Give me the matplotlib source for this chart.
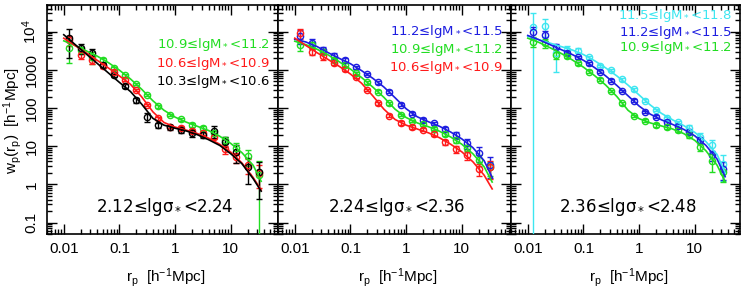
import numpy as np
import matplotlib
matplotlib.use('Agg')
import matplotlib.pyplot as plt
from matplotlib.ticker import FixedLocator, FixedFormatter, LogLocator, NullFormatter

plt.rcParams['font.family'] = ['Liberation Sans', 'DejaVu Sans']
plt.rcParams['mathtext.fontset'] = 'custom'
plt.rcParams['mathtext.rm'] = 'Liberation Sans'
plt.rcParams['mathtext.it'] = 'Liberation Sans:italic'
plt.rcParams['mathtext.bf'] = 'Liberation Sans:bold'
plt.rcParams['mathtext.default'] = 'regular'

# ---------------- data ----------------
r_pts = [0.0126, 0.02, 0.0316, 0.0501, 0.0794, 0.126, 0.2, 0.316, 0.501, 0.794,
         1.26, 2.0, 3.16, 5.01, 7.94, 12.6, 20.0, 31.6]
r_line = [0.01, 0.0158, 0.0251, 0.0398, 0.0631, 0.1, 0.158, 0.251, 0.398, 0.631,
          1.0, 1.58, 2.51, 3.98, 6.31, 10.0, 15.8, 25.1, 35.0]

# panel 1 : 2.12 <= lg sigma < 2.24   (w_p values; fit curves given as log10 w_p)
p1_green_w = [3700, 3300, 2140, 1820, 1100, 724, 427, 219, 110, 66, 50, 36, 30, 22, 14.5, 9.1, 5.4, 1.8]
p1_green_e = [0.6, 0.2, 0.35, 0.12, 0.1, 0.1, 0.08, 0.08, 0.08, 0.08, 0.08, 0.1, 0.1, 0.15, 0.2, 0.3, 0.45, 1.3]
p1_red_w = [6000, 2450, 1820, 1260, 890, 550, 295, 120, 54, 32, 30, 25, 22, 17.8, 8.3, 5.2, 3.2, 2.0]
p1_red_e = [0.3, 0.2, 0.2, 0.12, 0.1, 0.08, 0.08, 0.08, 0.08, 0.08, 0.1, 0.1, 0.12, 0.15, 0.25, 0.3, 0.4, 0.6]
p1_black_w = [6800, 3700, 2700, 1350, 720, 380, 162, 59, 36, 32, 26, 22, 20, 25, 13.2, 7.1, 2.9, 2.1]
p1_black_e = [0.7, 0.3, 0.3, 0.15, 0.1, 0.1, 0.15, 0.25, 0.15, 0.15, 0.15, 0.2, 0.2, 0.35, 0.3, 0.5, 0.65, 0.8]
p1_green_fit = [3.76, 3.64, 3.50, 3.36, 3.19, 2.99, 2.76, 2.49, 2.19, 1.94, 1.76, 1.63, 1.52, 1.41, 1.26, 1.07, 0.83, 0.50, 0.08]
p1_red_fit = [3.83, 3.64, 3.45, 3.25, 3.05, 2.84, 2.62, 2.29, 1.90, 1.62, 1.50, 1.42, 1.33, 1.21, 1.05, 0.84, 0.56, 0.18, -0.15]
p1_black_fit = [3.92, 3.67, 3.42, 3.17, 2.92, 2.67, 2.43, 2.10, 1.73, 1.55, 1.47, 1.40, 1.30, 1.17, 1.02, 0.80, 0.54, 0.15, -0.18]

# panel 2 : 2.24 <= lg sigma < 2.36
p2_blue_w = [7900, 5000, 3300, 2240, 1820, 1175, 776, 468, 269, 123, 71, 49, 40, 27.5, 19.5, 12.0, 6.6, 3.3]
p2_blue_e = [0.4, 0.25, 0.2, 0.2, 0.1, 0.08, 0.08, 0.08, 0.08, 0.08, 0.08, 0.1, 0.1, 0.15, 0.2, 0.3, 0.4, 0.55]
p2_green_w = [4470, 4470, 3020, 1820, 1350, 813, 468, 269, 132, 66, 46, 37, 29, 20.4, 14.5, 8.7, 4.4, 2.8]
p2_green_e = [0.3, 0.2, 0.15, 0.12, 0.1, 0.08, 0.08, 0.08, 0.08, 0.08, 0.08, 0.08, 0.1, 0.12, 0.15, 0.2, 0.3, 0.4]
p2_red_w = [9100, 3020, 2240, 1550, 1050, 660, 295, 132, 63, 41, 32, 27, 21.4, 12.6, 8.3, 5.9, 2.5, 2.8]
p2_red_e = [0.3, 0.2, 0.2, 0.15, 0.1, 0.08, 0.08, 0.08, 0.1, 0.1, 0.1, 0.1, 0.12, 0.15, 0.2, 0.25, 0.35, 0.5]
p2_blue_fit = [3.80, 3.73, 3.61, 3.45, 3.30, 3.16, 2.98, 2.78, 2.55, 2.27, 1.98, 1.77, 1.64, 1.52, 1.37, 1.19, 0.96, 0.62, 0.18]
p2_green_fit = [3.75, 3.66, 3.54, 3.39, 3.21, 3.02, 2.80, 2.55, 2.28, 1.97, 1.75, 1.61, 1.51, 1.39, 1.24, 1.05, 0.80, 0.46, 0.06]
p2_red_fit = [3.83, 3.64, 3.45, 3.27, 3.09, 2.89, 2.65, 2.32, 1.97, 1.70, 1.55, 1.45, 1.35, 1.22, 1.05, 0.85, 0.59, 0.24, -0.12]

# panel 3 : 2.36 <= lg sigma < 2.48
p3_cyan_w = [13200, 14100, 2700, 3300, 3160, 2140, 1260, 1000, 562, 309, 155, 89, 54, 42, 29.5, 17.8, 11.0, 3.5]
p3_cyan_e = [1.3, 0.5, 0.67, 0.3, 0.15, 0.1, 0.08, 0.08, 0.08, 0.08, 0.08, 0.08, 0.1, 0.12, 0.2, 0.25, 0.35, 0.65]
p3_blue_w = [10000, 8100, 4070, 2820, 2140, 1480, 890, 525, 282, 155, 79, 59, 42, 34, 24, 14.5, 5.9, 2.6]
p3_blue_e = [0.3, 0.3, 0.15, 0.12, 0.1, 0.08, 0.08, 0.08, 0.08, 0.08, 0.08, 0.08, 0.1, 0.12, 0.15, 0.2, 0.3, 0.5]
p3_green_w = [5500, 5000, 2450, 2290, 1480, 890, 550, 282, 132, 62, 47, 36, 32, 26, 19.5, 9.8, 4.2, 2.1]
p3_green_e = [0.3, 0.25, 0.2, 0.12, 0.1, 0.08, 0.08, 0.08, 0.08, 0.08, 0.08, 0.1, 0.1, 0.12, 0.15, 0.25, 0.5, 0.45]
p3_cyan_fit = [3.88, 3.79, 3.70, 3.61, 3.52, 3.40, 3.24, 3.05, 2.84, 2.60, 2.34, 2.08, 1.86, 1.69, 1.54, 1.36, 1.12, 0.78, 0.30]
p3_blue_fit = [3.90, 3.79, 3.66, 3.53, 3.40, 3.25, 3.06, 2.84, 2.59, 2.32, 2.05, 1.84, 1.69, 1.57, 1.44, 1.27, 1.02, 0.66, 0.20]
p3_green_fit = [3.83, 3.72, 3.58, 3.43, 3.26, 3.07, 2.85, 2.60, 2.30, 1.94, 1.72, 1.61, 1.53, 1.45, 1.33, 1.15, 0.88, 0.50, 0.07]

mass_labels = {
    'cyan': '11.5≤lgM$_*$<11.8',
    'blue': '11.2≤lgM$_*$<11.5',
    'green': '10.9≤lgM$_*$<11.2',
    'red': '10.6≤lgM$_*$<10.9',
    'black': '10.3≤lgM$_*$<10.6',
}
sigma_labels = ['2.12≤lgσ$_*$<2.24', '2.24≤lgσ$_*$<2.36', '2.36≤lgσ$_*$<2.48']
xtick_vals = [0.01, 0.1, 1, 10]
xtick_labels = ['0.01', '0.1', '1', '10']
ytick_vals = [0.1, 1, 10, 100, 1000, 10000]
ytick_labels = ['0.1', '1', '10', '100', '1000', '$10^4$']

colors = {'green': '#22dd22', 'red': '#ff1a1a', 'black': '#000000',
          'blue': '#1e1ee0', 'cyan': '#3ee6f0'}

panels = [
    [('green', p1_green_w, p1_green_e, p1_green_fit),
     ('red', p1_red_w, p1_red_e, p1_red_fit),
     ('black', p1_black_w, p1_black_e, p1_black_fit)],
    [('blue', p2_blue_w, p2_blue_e, p2_blue_fit),
     ('green', p2_green_w, p2_green_e, p2_green_fit),
     ('red', p2_red_w, p2_red_e, p2_red_fit)],
    [('cyan', p3_cyan_w, p3_cyan_e, p3_cyan_fit),
     ('blue', p3_blue_w, p3_blue_e, p3_blue_fit),
     ('green', p3_green_w, p3_green_e, p3_green_fit)],
]

# ---------------- layout ----------------
W, H = 747.0, 292.0
fig = plt.figure(figsize=(7.47, 2.92), dpi=100)
panel_px = [(47, 231), (278, 233), (511, 229)]
top_px, bot_px = 5, 234
px_per_dec = 55.7
legend_base = [[48.5, 66.5, 84.5], [35.5, 53, 71], [18.5, 36, 51.5]]
label_font = ['DejaVu Sans']

for i, ((x0, wpx), series) in enumerate(zip(panel_px, panels)):
    ax = fig.add_axes([x0 / W, 1 - bot_px / H, wpx / W, (bot_px - top_px) / H])
    ax.set_xscale('log')
    ax.set_yscale('log')
    xmin = 0.005
    xmax = 10 ** (np.log10(xmin) + wpx / px_per_dec)
    ax.set_xlim(xmin, xmax)
    ax.set_ylim(0.05, 5e4)

    for name, w, e, fit in series:
        c = colors[name]
        w_arr = np.array(w, dtype=float)
        err = w_arr * np.array(e)
        ax.errorbar(r_pts, w_arr, yerr=err, fmt='o', ms=4.5, mfc='none', mec=c,
                    mew=1.0, ecolor=c, elinewidth=1.0, capsize=2.2, capthick=1.0,
                    zorder=3)
        ax.plot(r_line, 10 ** np.array(fit), color=c, lw=1.2, zorder=4)

    # ticks
    ax.xaxis.set_major_locator(FixedLocator(xtick_vals))
    ax.xaxis.set_major_formatter(FixedFormatter(xtick_labels))
    ax.xaxis.set_minor_locator(LogLocator(base=10, subs=np.arange(2, 10), numticks=20))
    ax.xaxis.set_minor_formatter(NullFormatter())
    ax.yaxis.set_major_locator(FixedLocator(ytick_vals))
    ax.yaxis.set_minor_locator(LogLocator(base=10, subs=np.arange(2, 10), numticks=20))
    ax.yaxis.set_minor_formatter(NullFormatter())
    if i == 0:
        ax.yaxis.set_major_formatter(FixedFormatter(ytick_labels))
    else:
        ax.yaxis.set_major_formatter(NullFormatter())
    ax.tick_params(which='both', direction='in', top=True, right=True, width=1.0,
                   labelsize=11)
    ax.tick_params(which='major', length=7)
    ax.tick_params(which='minor', length=3.5)
    ax.tick_params(axis='x', pad=6)
    ax.tick_params(axis='y', pad=6)
    if i == 0:
        for lbl in ax.get_yticklabels():
            lbl.set_rotation(90)
            lbl.set_va('center')
            lbl.set_ha('right')
    for sp in ax.spines.values():
        sp.set_linewidth(1.2)

    xr = x0 + wpx - 8
    for (name, _, _, _), yb in zip(series, legend_base[i]):
        fig.text(xr / W, 1 - yb / H, mass_labels[name], color=colors[name],
                 fontsize=9.5, family=label_font, ha='right', va='baseline')

    xc = x0 + wpx / 2.0
    fig.text((xc + 2) / W, 1 - 212 / H, sigma_labels[i], fontsize=12,
             family=label_font, ha='center', va='baseline', color='black')
    fig.text((xc + 3) / W, 1 - 282 / H, 'r$_\\mathrm{p}$  [h$^{-1}$Mpc]',
             fontsize=11, ha='center', va='baseline')

fig.text(13 / W, 1 - 120 / H, 'w$_\\mathrm{p}$(r$_\\mathrm{p}$)  [h$^{-1}$Mpc]',
         fontsize=11, rotation=90, ha='center', va='center')

fig.savefig('out.png', dpi=100)
